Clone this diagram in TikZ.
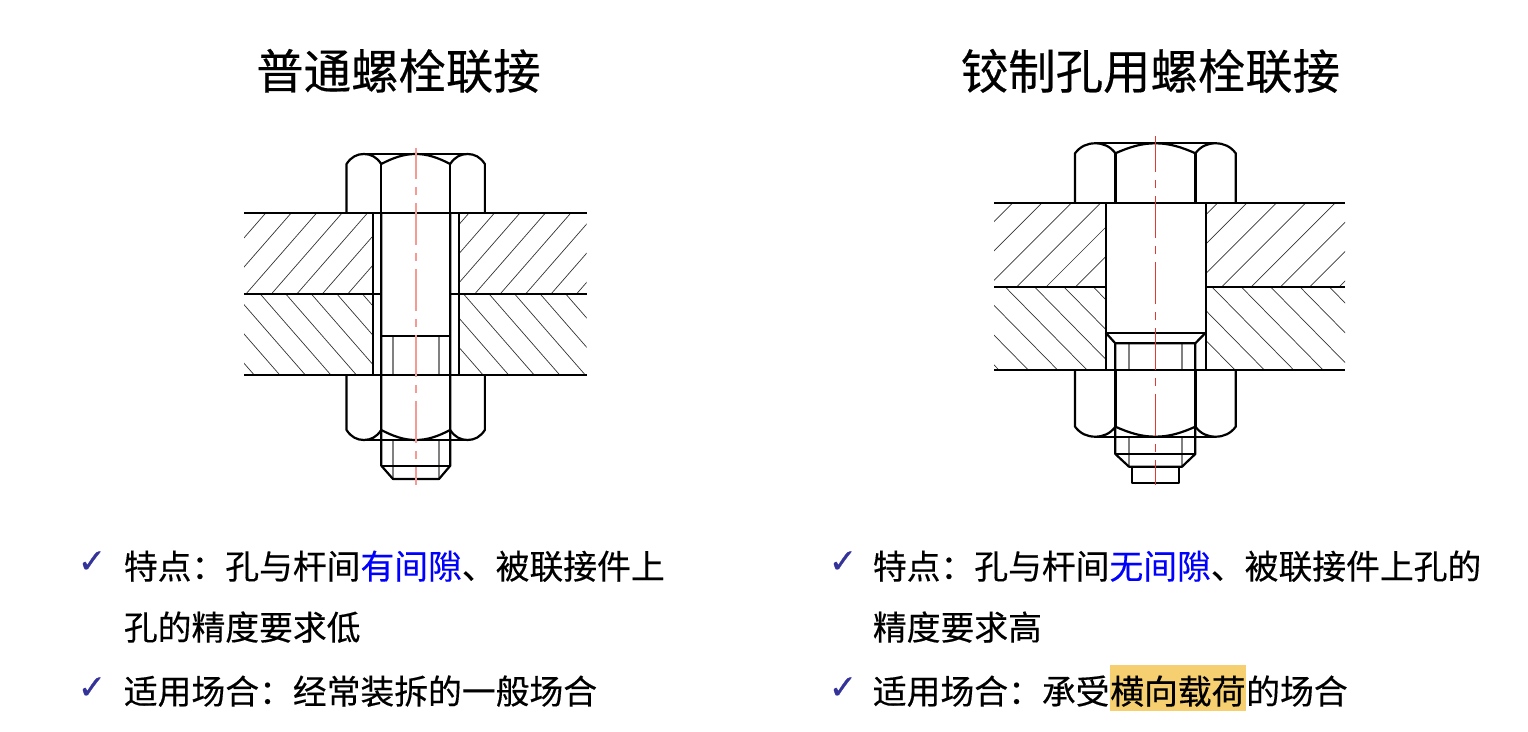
\documentclass[tikz,border=0pt]{standalone}
\usepackage{fontspec}
\setmainfont{Noto Sans CJK SC}[FakeBold=0.35]
\newfontfamily\markfont{DejaVu Sans}[FakeBold=0.5]
\newcommand{\widecolon}{\char"FF1A\relax}
\definecolor{markblue}{HTML}{333399}
\definecolor{hilite}{HTML}{F5CF70}
\definecolor{axisred}{HTML}{E03A32}
\definecolor{axispale}{HTML}{F59A94}
\tikzset{
  part/.style={line width=1.1pt, black, line join=round},
  hatchline/.style={line width=0.35pt, black!80},
  threadline/.style={line width=0.6pt, black!50},
  axisline/.style={line width=0.8pt, dash pattern=on 21pt off 4pt on 4.2pt off 3.8pt},
  titletext/.style={font=\fontsize{23.7}{28}\selectfont, inner sep=0},
  bodytext/.style={font=\fontsize{16.9}{20}\selectfont, inner sep=0, anchor=base west, text height=19.5pt, text depth=3.5pt},
  checkmark/.style={font=\markfont\fontsize{17}{20}\selectfont, text=markblue, inner sep=0}
}
% #1 x left, #2 y top, #3 x right, #4 y bottom, #5 first x on top edge, #6 step, #7 run
\newcommand{\hatchplate}[7]{
  \begin{scope}
    \clip (#1,#2) rectangle (#3,#4);
    \foreach \k in {-8,...,8}
      \draw[hatchline] ({#5+\k*#6},#2) -- ({#5+\k*#6+#7},#4);
  \end{scope}
}
% #1 x centre, #2 y base, #3 up or down, #4 half width, #5 half flat, #6 chamfer height, #7 full height
\newcommand{\hexcap}[7]{
  \begin{scope}[shift={(#1,#2)}, yscale=#3]
    \draw[part] (-#4,0) -- (-#4,-#6)
      .. controls ({-#4+0.13*(#4-#5)},{-#6-0.7*(#7-#6)}) and ({-(#4+#5)/2-0.2*(#4-#5)},-#7) .. ({-(#4+#5)/2},-#7)
      .. controls ({-(#4+#5)/2+0.2*(#4-#5)},-#7) and ({-#5-0.13*(#4-#5)},{-#6-0.7*(#7-#6)}) .. (-#5,-#6)
      .. controls ({-#5*0.65},{-#6-0.62*(#7-#6)}) and ({-#5*0.35},-#7) .. (0,-#7)
      .. controls ({#5*0.35},-#7) and ({#5*0.65},{-#6-0.62*(#7-#6)}) .. (#5,-#6)
      .. controls ({#5+0.13*(#4-#5)},{-#6-0.7*(#7-#6)}) and ({(#4+#5)/2-0.2*(#4-#5)},-#7) .. ({(#4+#5)/2},-#7)
      .. controls ({(#4+#5)/2+0.2*(#4-#5)},-#7) and ({#4-0.13*(#4-#5)},{-#6-0.7*(#7-#6)}) .. (#4,-#6)
      -- (#4,0);
    \draw[part] ({-(#4+#5)/2},-#7) -- ({(#4+#5)/2},-#7);
    \draw[part] (-#5,0) -- (-#5,-#6);
    \draw[part] (#5,0) -- (#5,-#6);
  \end{scope}
}
\begin{document}
\begin{tikzpicture}[x=0.5pt,y=-0.5pt]
  \useasboundingbox (0,0) rectangle (1528,732);

  \node[titletext] (titleL) at (398.5,71) {普通螺栓联接};
  \node[titletext] (titleR) at (1150.5,71) {铰制孔用螺栓联接};

  % plain bolt
  \hatchplate{244}{212.7}{372.7}{293.7}{266}{25.45}{-70.7}
  \hatchplate{459.3}{212.7}{586.7}{293.7}{469.3}{25.45}{-70.7}
  \hatchplate{244}{293.7}{372.7}{375}{260}{25.55}{70.9}
  \hatchplate{459.3}{293.7}{586.7}{375}{463.3}{25.55}{70.9}

  \draw[threadline] (393,335.7) -- (393,375);
  \draw[threadline] (439,335.7) -- (439,375);
  \draw[threadline] (393,440) -- (393,479);
  \draw[threadline] (439,440) -- (439,479);

  \draw[part] (244,212.7) -- (586.7,212.7);
  \draw[part] (244,375) -- (586.7,375);
  \draw[part] (244,293.7) -- (381.3,293.7);
  \draw[part] (450.3,293.7) -- (586.7,293.7);
  \draw[part] (372.7,212.7) -- (372.7,375);
  \draw[part] (459.3,212.7) -- (459.3,375);
  \draw[part] (381.3,212.7) -- (381.3,465.7) -- (393,479) -- (439,479) -- (450.3,465.7) -- (450.3,212.7);
  \draw[part] (381.3,335.7) -- (450.3,335.7);
  \draw[part] (381.3,465.7) -- (450.3,465.7);

  \hexcap{415.7}{212.7}{1}{69.15}{34.5}{48.7}{58.7}
  \hexcap{415.7}{375}{-1}{69.15}{34.5}{55}{65}

  \draw[axisline, color=axispale, dash phase=5.5pt] (415.7,148) -- (415.7,485);

  % fitted bolt
  \hatchplate{994}{203.3}{1105.7}{286.7}{1012.3}{29.35}{-83.4}
  \hatchplate{1205.7}{203.3}{1345}{286.7}{1217.3}{29.35}{-83.4}
  \hatchplate{994}{286.7}{1105.7}{370}{1005}{29.35}{82}
  \hatchplate{1205.7}{286.7}{1345}{370}{1211.7}{29.35}{82}

  \draw[threadline] (1129,343.3) -- (1129,370);
  \draw[threadline] (1182,343.3) -- (1182,370);
  \draw[threadline] (1129,436.7) -- (1129,466.7);
  \draw[threadline] (1182,436.7) -- (1182,466.7);

  \draw[part] (994,203.3) -- (1345,203.3);
  \draw[part] (994,370) -- (1345,370);
  \draw[part] (994,286.7) -- (1105.7,286.7);
  \draw[part] (1205.7,286.7) -- (1345,286.7);
  \draw[part] (1105.7,203.3) -- (1105.7,370);
  \draw[part] (1205.7,203.3) -- (1205.7,370);
  \draw[part] (1105.7,332.7) -- (1205.7,332.7);
  \draw[part] (1105.7,332.7) -- (1115.3,343.3) -- (1195.3,343.3) -- (1205.7,332.7);
  \draw[part] (1115.3,343.3) -- (1115.3,454) -- (1129,466.7) -- (1182,466.7) -- (1195.3,454) -- (1195.3,343.3);
  \draw[part] (1115.3,454) -- (1195.3,454);
  \draw[part] (1131.7,466.7) -- (1131.7,483.3) -- (1179.3,483.3) -- (1179.3,466.7);

  \hexcap{1155.4}{203.3}{1}{80.35}{40}{50}{60}
  \hexcap{1155.4}{370}{-1}{80.35}{40}{56.7}{66.7}

  \draw[axisline, color=axisred, line width=0.7pt, dash phase=3pt] (1155.5,136) -- (1155.5,485);

  % texts below
  \node[checkmark] (markA) at (92,562) {✓};
  \node[bodytext] (lineA) at (123.5,579) {特点\widecolon 孔与杆间\textcolor{blue}{有间隙}、被联接件上};
  \node[bodytext] (lineB) at (123.5,640) {孔的精度要求低};
  \node[checkmark] (markB) at (92,688) {✓};
  \node[bodytext] (lineC) at (123.5,704) {适用场合\widecolon 经常装拆的一般场合};

  \node[checkmark] (markC) at (843,562) {✓};
  \node[bodytext] (lineD) at (872.5,579) {特点\widecolon 孔与杆间\textcolor{blue}{无间隙}、被联接件上孔的};
  \node[bodytext] (lineE) at (872.5,640) {精度要求高};
  \node[checkmark] (markD) at (843,688) {✓};
  \node[bodytext] (lineF) at (872.5,704) {适用场合\widecolon 承受};
  \node[bodytext, fill=hilite] (lineG) at (lineF.base east) {横向载荷};
  \node[bodytext] (lineH) at (lineG.base east) {的场合};
\end{tikzpicture}
\end{document}
